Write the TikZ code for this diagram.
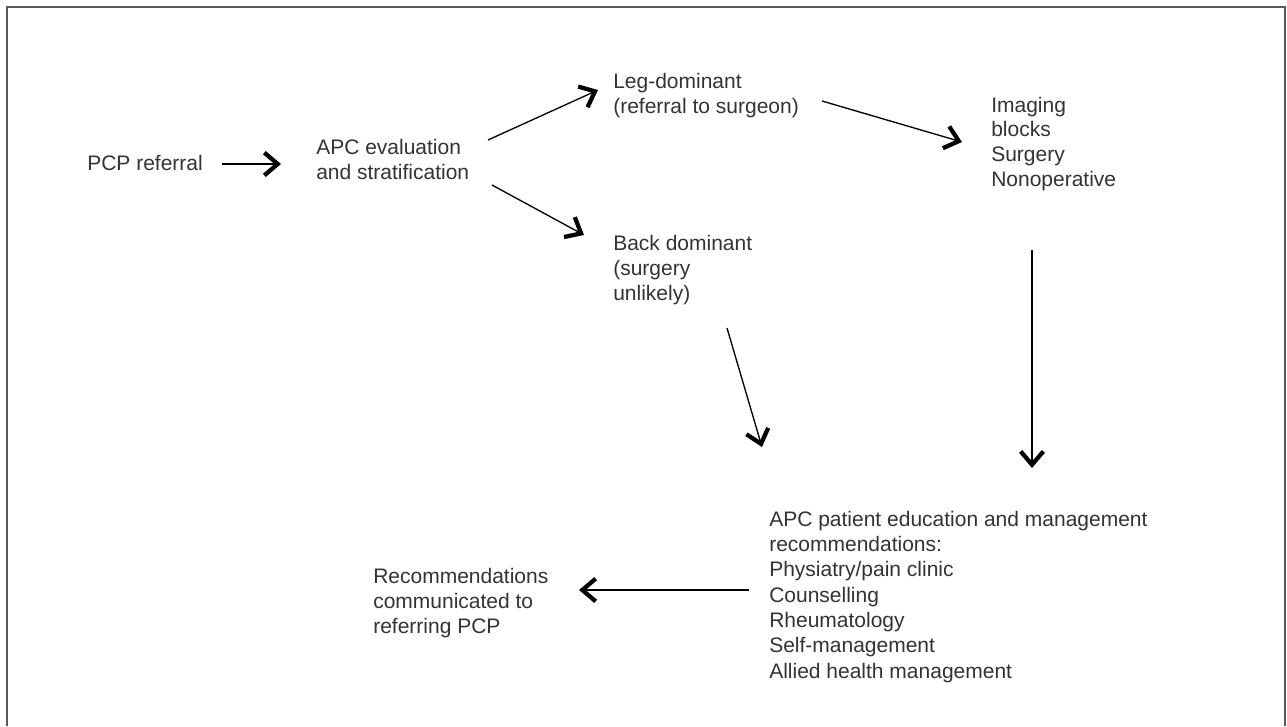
\documentclass[tikz,border=0pt]{standalone}
\usepackage{fontspec}
\setmainfont{Liberation Sans}
\usepackage{tikz}
\usetikzlibrary{arrows.meta,calc}

\begin{document}
\begin{tikzpicture}[x=0.75pt, y=-0.75pt,
	txt/.style={anchor=base west, inner sep=0pt, align=left, text=black!80, font=\fontsize{15.75pt}{18.5pt}\selectfont},
	arr/.style={line width=1pt, -{Straight Barb[length=10pt, width=17pt, line width=3.2pt]}}]
	\useasboundingbox (0,0) rectangle (1287,726);
	\draw [black!65, line width=1.2pt] (7,726) -- (7,7) -- (1285,7) -- (1285,726);
	% text blocks (placed at the baseline of their last line)
	\node [txt] (pcp) at (87,170) {PCP referral};
	\node [txt] (apc) at (316,179) {APC evaluation\\and stratification};
	\node [txt] (leg) at (613,113) {Leg-dominant\\(referral to surgeon)};
	\node [txt] (img) at (991,186) {Imaging\\blocks\\Surgery\\Nonoperative};
	\node [txt] (back) at (613,300) {Back dominant\\(surgery\\unlikely)};
	\node [txt, font=\fontsize{15.75pt}{19pt}\selectfont] (mgmt) at (769,678) {APC patient education and management\\recommendations:\\Physiatry/pain clinic\\Counselling\\Rheumatology\\Self-management\\Allied health management};
	\node [txt] (recs) at (373,633) {Recommendations\\communicated to\\referring PCP};
	% arrows
	\draw [arr] ($(pcp.base west)+(135,-6)$) -- ($(apc.base west)+(-35,-15)$);
	\draw [arr] ($(apc.base west)+(172,-39)$) -- ($(leg.base west)+(-15,-23)$);
	\draw [arr] ($(apc.base west)+(176,6)$) -- ($(back.base west)+(-29,-65)$);
	\draw [arr] ($(leg.base west)+(209,-12)$) -- ($(img.base west)+(-29,-44)$);
	\draw [arr] ($(img.base west)+(41,64)$) -- ($(mgmt.base west)+(263,-210)$);
	\draw [arr] ($(back.base west)+(114,28)$) -- ($(mgmt.base west)+(-7,-231)$);
	\draw [arr] ($(mgmt.base west)+(-20,-88)$) -- ($(recs.base west)+(206,-43)$);
\end{tikzpicture}
\end{document}
